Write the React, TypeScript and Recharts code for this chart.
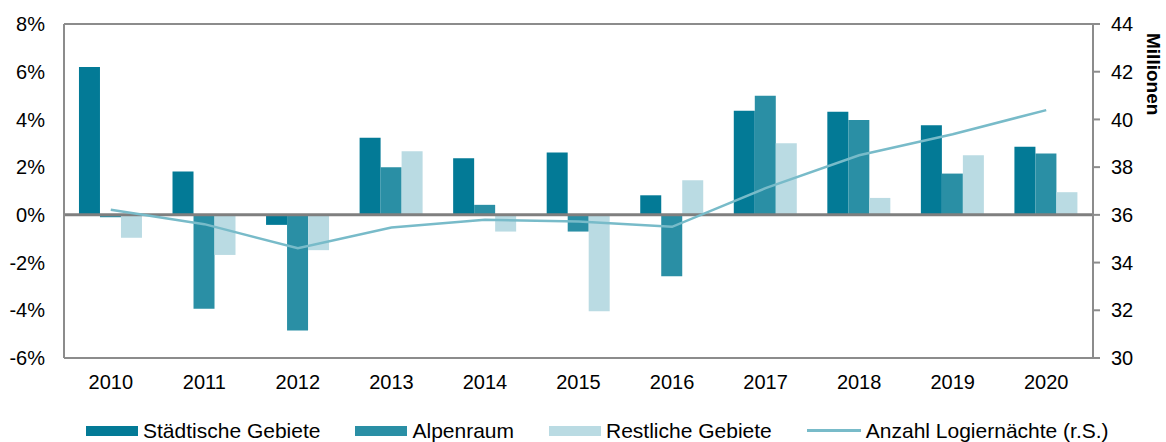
import React from 'react';
import {
  ComposedChart,
  Bar,
  Line,
  XAxis,
  YAxis,
  CartesianGrid,
  ReferenceLine,
} from 'recharts';

const years = ['2010', '2011', '2012', '2013', '2014', '2015', '2016', '2017', '2018', '2019', '2020'];
const staedtisch = [6.2, 1.82, -0.42, 3.23, 2.37, 2.61, 0.82, 4.36, 4.32, 3.76, 2.85];
const alpenraum = [-0.1, -3.94, -4.85, 2.0, 0.42, -0.7, -2.57, 4.99, 3.98, 1.73, 2.57];
const restliche = [-0.96, -1.68, -1.48, 2.67, -0.7, -4.04, 1.45, 3.0, 0.71, 2.5, 0.95];
const logiernaechte = [36.21, 35.61, 34.6, 35.47, 35.79, 35.72, 35.5, 37.12, 38.5, 39.38, 40.39];

const leftTicks = [-6, -4, -2, 0, 2, 4, 6, 8];
const rightTicks = [30, 32, 34, 36, 38, 40, 42, 44];

const seriesNames = ['Städtische Gebiete', 'Alpenraum', 'Restliche Gebiete', 'Anzahl Logiernächte (r.S.)'];
const seriesColors = ['#037A96', '#2A8FA5', '#BADBE3', '#78BBC9'];
const rightAxisTitle = 'Millionen';

const data = years.map((y, i) => ({
  year: y,
  s: staedtisch[i],
  a: alpenraum[i],
  r: restliche[i],
  l: logiernaechte[i],
}));

const FONT = '"Liberation Sans", Arial, sans-serif';
const GRID = '#8C8C8C';

export default function App() {
  return (
    <div style={{ position: 'absolute', left: 0, top: 0, width: 1166, height: 442, fontFamily: FONT }}>
      <ComposedChart
        width={1166}
        height={442}
        data={data}
        margin={{ top: 24, right: 0, bottom: 0, left: 0 }}
        barCategoryGap="16%"
        barGap={0}
      >
        <CartesianGrid vertical={false} stroke={GRID} strokeWidth={2} />
        <XAxis
          dataKey="year"
          height={84}
          axisLine={false}
          tickLine={false}
          tickSize={17}
          tickMargin={0}
          tick={{ fill: '#000', fontSize: 20, fontFamily: FONT }}
          interval={0}
        />
        <YAxis
          yAxisId="left"
          orientation="left"
          width={64}
          domain={[-6, 8]}
          ticks={leftTicks}
          tickFormatter={(v: number) => `${v}%`}
          axisLine={{ stroke: GRID, strokeWidth: 2 }}
          tickLine={false}
          tickSize={19}
          tickMargin={0}
          tick={{ fill: '#000', fontSize: 20, fontFamily: FONT }}
          interval={0}
        />
        <YAxis
          yAxisId="right"
          orientation="right"
          width={73}
          domain={[30, 44]}
          ticks={rightTicks}
          axisLine={{ stroke: GRID, strokeWidth: 2 }}
          tickLine={{ stroke: GRID, strokeWidth: 2 }}
          tickSize={7}
          tickMargin={11}
          tick={{ fill: '#000', fontSize: 20, fontFamily: FONT }}
          interval={0}
        />
        <Bar yAxisId="left" dataKey="s" name={seriesNames[0]} fill={seriesColors[0]} isAnimationActive={false} />
        <Bar yAxisId="left" dataKey="a" name={seriesNames[1]} fill={seriesColors[1]} isAnimationActive={false} />
        <Bar yAxisId="left" dataKey="r" name={seriesNames[2]} fill={seriesColors[2]} isAnimationActive={false} />
        <ReferenceLine yAxisId="left" y={0} stroke="#7F7F7F" strokeWidth={3} />
        <Line
          yAxisId="right"
          dataKey="l"
          name={seriesNames[3]}
          stroke={seriesColors[3]}
          strokeWidth={2.5}
          dot={false}
          type="linear"
          isAnimationActive={false}
        />
      </ComposedChart>
      <div
        style={{
          position: 'absolute',
          left: 1144,
          top: 33,
          writingMode: 'vertical-rl',
          fontWeight: 'bold',
          fontSize: 19,
          lineHeight: '19px',
          color: '#000',
        }}
      >
        {rightAxisTitle}
      </div>
      <div
        style={{
          position: 'absolute',
          left: 86,
          top: 420,
          display: 'flex',
          alignItems: 'center',
          gap: 35,
          fontSize: 21,
          lineHeight: '21px',
          color: '#000',
          whiteSpace: 'nowrap',
        }}
      >
        {seriesNames.map((n, i) => (
          <div key={n} style={{ display: 'flex', alignItems: 'center' }}>
            {i < 3 ? (
              <div style={{ width: 52, height: 10, background: seriesColors[i], marginRight: 5 }} />
            ) : (
              <div style={{ width: 54, height: 3, background: seriesColors[i], marginRight: 5 }} />
            )}
            <span>{n}</span>
          </div>
        ))}
      </div>
    </div>
  );
}
